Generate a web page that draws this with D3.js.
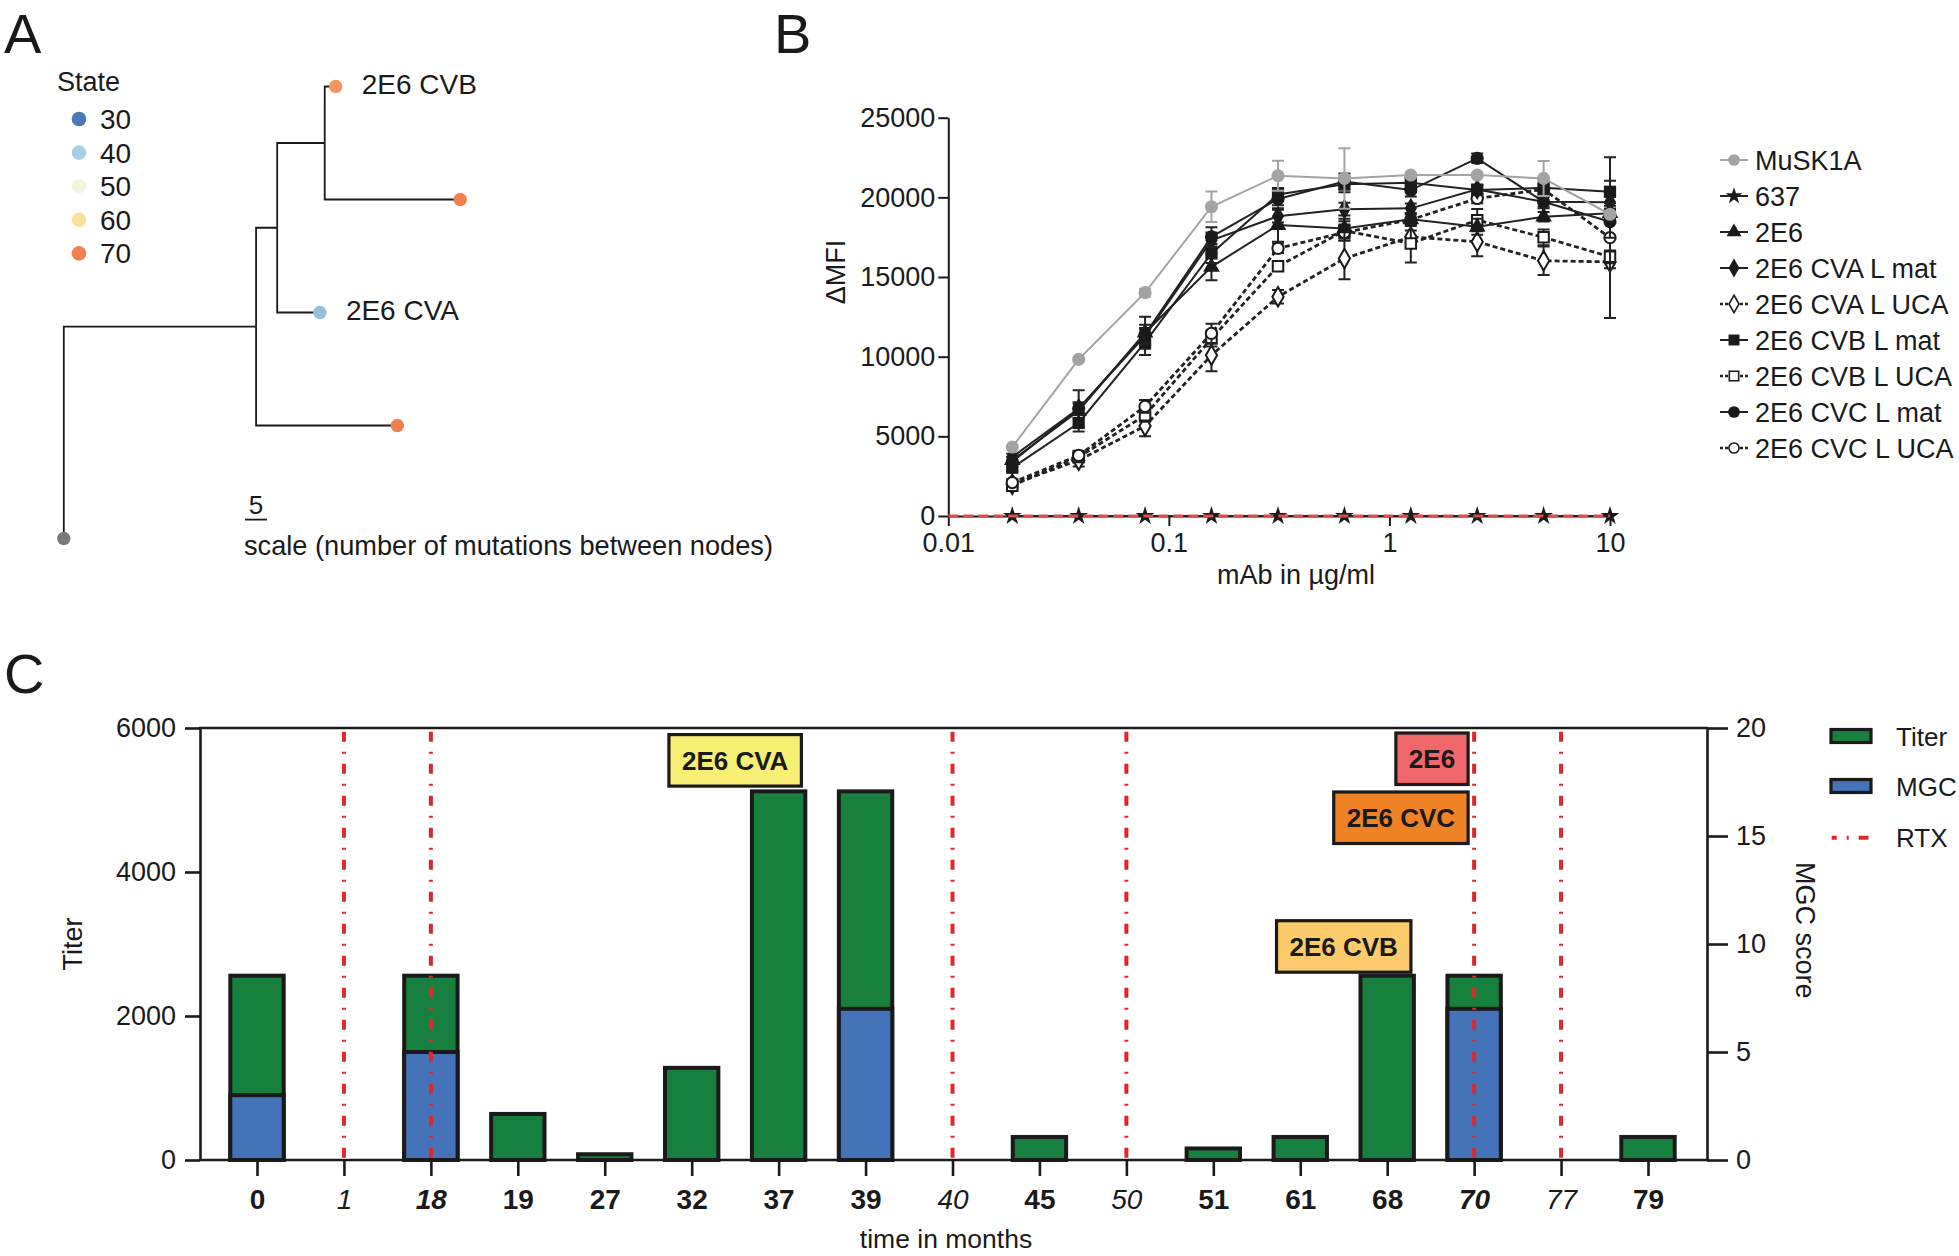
<!DOCTYPE html>
<html><head><meta charset="utf-8">
<script src="https://cdn.jsdelivr.net/npm/d3@7"></script>
<style>
body{margin:0;background:#fff}
svg{display:block}
text{font-family:"Liberation Sans",Arial,Helvetica,sans-serif;fill:#1a1a1a}
</style></head>
<body><svg id="c" width="1959" height="1256"></svg>
<script>
// ================= DATA =================
// Panel A : lineage tree (branch lengths in mutations, state = month of isolation)
const treeNodeIds   = ["root","n1","leafBottom","n2","CVA","n3","CVB","leafMid"];
const treeParents   = [null,"root","n1","n1","n2","n2","n3","n3"];
const treeBranchLen = [0,43.7,32.1,4.8,9.7,10.8,2.5,30.8];
const treeLabels    = ["","","","","2E6 CVA","","2E6 CVB",""];
const treeStates    = [null,null,70,null,38,null,68,70];
const treeLeafOrder = ["CVB","leafMid","CVA","leafBottom","root"];
const stateLegend   = [30,40,50,60,70];

// Panel B : binding curves
const doses = [0.0195,0.039,0.078,0.156,0.3125,0.625,1.25,2.5,5,10];
const seriesNames = ["MuSK1A","637","2E6","2E6 CVA L mat","2E6 CVA L UCA","2E6 CVB L mat","2E6 CVB L UCA","2E6 CVC L mat","2E6 CVC L UCA"];
const musk1aMean = [4330,9830,14020,19410,21360,21190,21400,21400,21190,18940];
const musk1aErr  = [0,0,250,950,940,1900,0,0,1100,0];
const m637Mean   = [0,0,0,0,0,0,0,0,0,0];
const m637Err    = [0,0,0,0,0,0,0,0,0,0];
const e2e6Mean   = [3500,6600,11500,15640,18260,18050,18620,18150,18780,19000];
const e2e6Err    = [0,1300,1000,840,1050,600,300,500,300,300];
const cvaMatMean = [3700,6750,11300,17300,18820,19260,19310,20500,19720,19700];
const cvaMatErr  = [200,300,500,500,400,400,300,300,300,500];
const cvaUcaMean = [2000,3500,5650,10090,13760,16160,17520,17210,16020,15950];
const cvaUcaErr  = [200,400,650,1000,420,1300,400,900,900,400];
const cvbMatMean = [3030,5840,10900,16480,20180,20820,20920,20460,20600,20350];
const cvbMatErr  = [200,300,800,600,400,500,300,300,500,700];
const cvbUcaMean = [1900,3700,6320,11140,15680,17900,17110,18570,17490,16270];
const cvbUcaErr  = [200,300,400,500,300,600,1200,700,500,400];
const cvcMatMean = [3400,6740,11400,17520,19900,21000,20460,22450,19720,18470];
const cvcMatErr  = [300,400,600,600,400,500,400,300,400,1000];
const cvcUcaMean = [2100,3800,6880,11460,16800,17800,18600,19930,20500,17470];
const cvcUcaErr  = [200,300,400,600,300,500,400,300,300,5050];
const bYTicks = [0,5000,10000,15000,20000,25000];
const bXTicks = [0.01,0.1,1,10];

// Panel C : titer / MGC over time
const timeCategories = ["0","1","18","19","27","32","37","39","40","45","50","51","61","68","70","77","79"];
const titerValues = [2560,0,2560,640,80,1280,5120,5120,0,320,0,160,320,2560,2560,0,320];
const mgcValues   = [3,0,5,0,0,0,0,7,0,0,0,0,0,0,7,0,0];
const rtxMonths   = ["1","18","40","50","70","77"];
const annotLabels = ["2E6 CVA","2E6","2E6 CVC","2E6 CVB"];
const titerTicks  = [0,2000,4000,6000];
const mgcTicks    = [0,5,10,15,20];
const legendC     = ["Titer","MGC","RTX"];

// ================= DRAWING =================
const svg = d3.select("#c");
const INK = "#1a1a1a";
const txt = (x,y,s,size,opt={}) => {
  const t = svg.append("text").attr("x",x).attr("y",y).attr("font-size",size).text(s);
  if(opt.anchor) t.attr("text-anchor",opt.anchor);
  if(opt.weight) t.attr("font-weight",opt.weight);
  if(opt.transform) t.attr("transform",opt.transform);
  return t;
};

// panel letters
txt(4,53,"A",56); txt(774,53,"B",56); txt(4,693,"C",56);

// ---------- Panel A ----------
(function(){
  const xT = d3.scaleLinear().domain([0,5]).range([63.8,85.8]);
  const yT = d3.scalePoint().domain(treeLeafOrder).range([86.5,538.5]);
  const color = d3.scaleLinear().domain([30,40,50,60,70])
    .range(["#4a78b7","#a8cfe5","#f3f5dc","#f9e29d","#f0804f"]);
  const nodes = {};
  treeNodeIds.forEach((id,i)=>{
    const p = treeParents[i];
    nodes[id] = {id, parent:p, dist:(p?nodes[p].dist:0)+treeBranchLen[i],
                 label:treeLabels[i], state:treeStates[i], children:[]};
    if(p) nodes[p].children.push(nodes[id]);
  });
  const setY = n => {
    if(treeLeafOrder.includes(n.id)) n.y = yT(n.id);
    n.children.forEach(setY);
    if(!treeLeafOrder.includes(n.id)) n.y = d3.mean(n.children,c=>c.y);
  };
  setY(nodes.root);
  const g = svg.append("g");
  treeNodeIds.filter(id=>nodes[id].parent).forEach(id=>{
    const n = nodes[id], p = nodes[n.parent];
    g.append("path").attr("d",`M${xT(p.dist)},${p.y}V${n.y}H${xT(n.dist)}`)
      .attr("fill","none").attr("stroke",INK).attr("stroke-width",1.8);
  });
  treeNodeIds.forEach(id=>{
    const n = nodes[id];
    if(id==="root"){
      g.append("circle").attr("cx",xT(n.dist)).attr("cy",n.y).attr("r",6.7).attr("fill","#7a7a7a");
    } else if(n.state!==null){
      g.append("circle").attr("cx",xT(n.dist)).attr("cy",n.y).attr("r",6.7).attr("fill",color(n.state));
    }
    if(n.label) txt(xT(n.dist)+26,n.y+7,n.label,28);
  });
  // legend
  txt(57,91,"State",27);
  stateLegend.forEach((s,i)=>{
    const y = 119+33.6*i;
    g.append("circle").attr("cx",79).attr("cy",y).attr("r",7.3).attr("fill",color(s));
    txt(100,y+10,String(s),28);
  });
  // scale bar
  g.append("line").attr("x1",xT(0)+181.2).attr("x2",xT(5)+181.2).attr("y1",519.6).attr("y2",519.6)
    .attr("stroke",INK).attr("stroke-width",1.8);
  txt(xT(2.5)+181.2,514,"5",26,{anchor:"middle"});
  txt(244,555,"scale (number of mutations between nodes)",27.2);
})();

// ---------- Panel B ----------
(function(){
  const xB = d3.scaleLog().domain([0.01,10]).range([948.3,1610]);
  const yB = d3.scaleLinear().domain([0,25000]).range([516,117.7]);
  const g = svg.append("g");
  const styleAxis = sel => {
    sel.selectAll("path").attr("stroke",INK).attr("stroke-width",2);
    sel.selectAll("line").attr("stroke",INK).attr("stroke-width",2);
    sel.selectAll("text").attr("font-size",27).attr("fill",INK)
      .attr("font-family",'"Liberation Sans",Arial,sans-serif');
  };
  g.append("g").attr("transform","translate(948.3,0)")
    .call(d3.axisLeft(yB).tickValues(bYTicks).tickFormat(d=>String(d)).tickSize(10).tickSizeOuter(0).tickPadding(3))
    .call(styleAxis);
  g.append("g").attr("transform","translate(0,516)")
    .call(d3.axisBottom(xB).tickValues(bXTicks).tickFormat(d=>String(d)).tickSize(10).tickSizeOuter(0).tickPadding(7))
    .call(styleAxis);
  txt(0,0,"ΔMFI",27,{anchor:"middle",transform:"translate(845,272) rotate(-90)"});
  txt(1296,584,"mAb in µg/ml",27,{anchor:"middle"});

  const means = [musk1aMean,m637Mean,e2e6Mean,cvaMatMean,cvaUcaMean,cvbMatMean,cvbUcaMean,cvcMatMean,cvcUcaMean];
  const errs  = [musk1aErr,m637Err,e2e6Err,cvaMatErr,cvaUcaErr,cvbMatErr,cvbUcaErr,cvcMatErr,cvcUcaErr];
  const sym = [
    {type:d3.symbolCircle,size:135,fill:"#a3a3a3",stroke:"none"},
    {type:d3.symbolStar,size:110,fill:INK,stroke:"none"},
    {type:d3.symbolTriangle,size:120,fill:INK,stroke:"none"},
    {type:d3.symbolDiamond,size:130,fill:INK,stroke:"none"},
    {type:d3.symbolDiamond,size:110,fill:"#fff",stroke:INK},
    {type:d3.symbolSquare,size:150,fill:INK,stroke:"none"},
    {type:d3.symbolSquare,size:110,fill:"#fff",stroke:INK},
    {type:d3.symbolCircle,size:135,fill:INK,stroke:"none"},
    {type:d3.symbolCircle,size:100,fill:"#fff",stroke:INK},
  ];
  const lineCol = i => i===0 ? "#a3a3a3" : "#222";
  const dashed = i => seriesNames[i].includes("UCA");
  const order = [1,4,6,8,2,3,5,7,0];
  const line = d3.line().x((d,i)=>xB(doses[i])).y(d=>yB(d));
  order.forEach(i=>{
    const sg = g.append("g");
    sg.append("path").datum(means[i]).attr("d",line).attr("fill","none")
      .attr("stroke",lineCol(i)).attr("stroke-width",dashed(i)?2.8:2)
      .attr("stroke-dasharray",dashed(i)?"5,3":null);
    means[i].forEach((m,k)=>{
      const e = errs[i][k]; if(!e) return;
      const x = xB(doses[k]);
      sg.append("path").attr("d",`M${x},${yB(m-e)}V${yB(m+e)}M${x-6},${yB(m-e)}h12M${x-6},${yB(m+e)}h12`)
        .attr("stroke",lineCol(i)).attr("stroke-width",2).attr("fill","none");
    });
    sg.selectAll("path.pt").data(means[i]).join("path").attr("class","pt")
      .attr("transform",(d,k)=>`translate(${xB(doses[k])},${yB(d)})`)
      .attr("d",d3.symbol().type(sym[i].type).size(sym[i].size))
      .attr("fill",sym[i].fill).attr("stroke",sym[i].stroke).attr("stroke-width",2);
    if(i===1){
      g.append("line").attr("x1",xB(0.01)).attr("x2",xB(10)).attr("y1",yB(0)).attr("y2",yB(0))
        .attr("stroke","#e24a4a").attr("stroke-width",3).attr("stroke-dasharray","10,5");
    }
  });
  // legend
  seriesNames.forEach((name,i)=>{
    const y = 160+36*i;
    g.append("line").attr("x1",1720).attr("x2",1748).attr("y1",y).attr("y2",y)
      .attr("stroke",lineCol(i)).attr("stroke-width",dashed(i)?2.4:2)
      .attr("stroke-dasharray",dashed(i)?"3,2":null);
    g.append("path").attr("transform",`translate(1734,${y})`)
      .attr("d",d3.symbol().type(sym[i].type).size(sym[i].size*0.8))
      .attr("fill",sym[i].fill).attr("stroke",sym[i].stroke).attr("stroke-width",1.6);
    txt(1755,y+10,name,27);
  });
})();

// ---------- Panel C ----------
(function(){
  const xC = d3.scalePoint().domain(timeCategories).range([257,1648]);
  const step = xC.step();
  const yT = d3.scaleLinear().domain([0,6000]).range([1160,728]);
  const yM = d3.scaleLinear().domain([0,20]).range([1160,728]);
  const L = 200, R = 1707;
  const g = svg.append("g");
  const styleAxis = (sel,w) => {
    sel.selectAll("path").attr("stroke",INK).attr("stroke-width",w);
    sel.selectAll("line").attr("stroke",INK).attr("stroke-width",w);
    sel.selectAll("text").attr("font-size",27).attr("fill",INK)
      .attr("font-family",'"Liberation Sans",Arial,sans-serif');
  };
  const bw = step*0.614;
  const GREEN="#18803e", BLUE="#4573b9";
  timeCategories.forEach((c,i)=>{
    if(titerValues[i]>0)
      g.append("rect").attr("x",xC(c)-bw/2).attr("width",bw)
        .attr("y",yT(titerValues[i])).attr("height",yT(0)-yT(titerValues[i]))
        .attr("fill",GREEN).attr("stroke",INK).attr("stroke-width",4);
  });
  timeCategories.forEach((c,i)=>{
    if(mgcValues[i]>0)
      g.append("rect").attr("x",xC(c)-bw/2).attr("width",bw)
        .attr("y",yM(mgcValues[i])).attr("height",yM(0)-yM(mgcValues[i]))
        .attr("fill",BLUE).attr("stroke",INK).attr("stroke-width",4);
  });
  rtxMonths.forEach(c=>{
    g.append("line").attr("x1",xC(c)).attr("x2",xC(c)).attr("y1",731.7).attr("y2",1158)
      .attr("stroke","#e0282c").attr("stroke-width",4).attr("stroke-dasharray","10,10,2,10");
  });
  // axes
  g.append("line").attr("x1",L-1).attr("x2",R+1).attr("y1",728).attr("y2",728).attr("stroke",INK).attr("stroke-width",2.6);
  g.append("g").attr("transform",`translate(${L},0)`)
    .call(d3.axisLeft(yT).tickValues(titerTicks).tickFormat(d=>String(d)).tickSize(15).tickSizeOuter(0).tickPadding(9))
    .call(s=>styleAxis(s,2.6));
  g.append("g").attr("transform",`translate(${R},0)`)
    .call(d3.axisRight(yM).tickValues(mgcTicks).tickFormat(d=>String(d)).tickSize(21).tickSizeOuter(0).tickPadding(8))
    .call(s=>styleAxis(s,2.6));
  const xAxis = g.append("g").attr("transform","translate(0,1160)")
    .call(d3.axisBottom(xC).tickSize(16).tickSizeOuter(0).tickPadding(13))
    .call(s=>styleAxis(s,2.6));
  xAxis.select("path.domain").attr("d",`M${L},0H${R}`);
  xAxis.selectAll(".tick text").attr("font-size",28)
    .attr("font-weight",c=>titerValues[timeCategories.indexOf(c)]>0?"bold":"normal")
    .attr("font-style",c=>rtxMonths.includes(c)?"italic":"normal");
  txt(0,0,"Titer",27,{anchor:"middle",transform:"translate(82,944) rotate(-90)"});
  txt(0,0,"MGC score",27,{transform:"translate(1796,862) rotate(90)"});
  txt(946,1248,"time in months",26.5,{anchor:"middle"});

  // annotation boxes
  const boxFill = {"2E6 CVA":"#f6ef74","2E6":"#f0676b","2E6 CVC":"#f08226","2E6 CVB":"#fbca6b"};
  const mid = (a,b)=>(xC(a)+xC(b))/2;
  const place = {
    "2E6 CVA":{cx:mid("32","37"),top:734.6},
    "2E6":{right:xC("70")-6,top:733},
    "2E6 CVC":{right:xC("70")-6,top:792},
    "2E6 CVB":{cx:mid("61","68"),top:920.7}
  };
  annotLabels.forEach(lbl=>{
    const ag = svg.append("g");
    const r = ag.append("rect");
    const t = ag.append("text").attr("font-size",26).attr("font-weight","bold").text(lbl);
    const tw = t.node().getComputedTextLength();
    const w = tw+26, h = 51.5, p = place[lbl];
    const x0 = p.cx!==undefined ? p.cx-w/2 : p.right-w;
    r.attr("x",x0).attr("y",p.top).attr("width",w).attr("height",h)
      .attr("fill",boxFill[lbl]).attr("stroke",INK).attr("stroke-width",3.2);
    t.attr("x",x0+w/2).attr("y",p.top+h/2+9.5).attr("text-anchor","middle");
  });

  // legend
  const lg = svg.append("g");
  [[GREEN,736],[BLUE,786]].forEach(([c,y])=>{
    lg.append("rect").attr("x",1831).attr("y",y-6.5).attr("width",40).attr("height",13)
      .attr("fill",c).attr("stroke",INK).attr("stroke-width",3.2);
  });
  lg.append("line").attr("x1",1831.7).attr("x2",1868.5).attr("y1",837.7).attr("y2",837.7)
    .attr("stroke","#e0282c").attr("stroke-width",4).attr("stroke-dasharray","10,10,2,10").attr("stroke-dashoffset",5);
  legendC.forEach((l,i)=>txt(1896,[736,786,837.7][i]+9.5,l,26));
})();
</script>
</body></html>
